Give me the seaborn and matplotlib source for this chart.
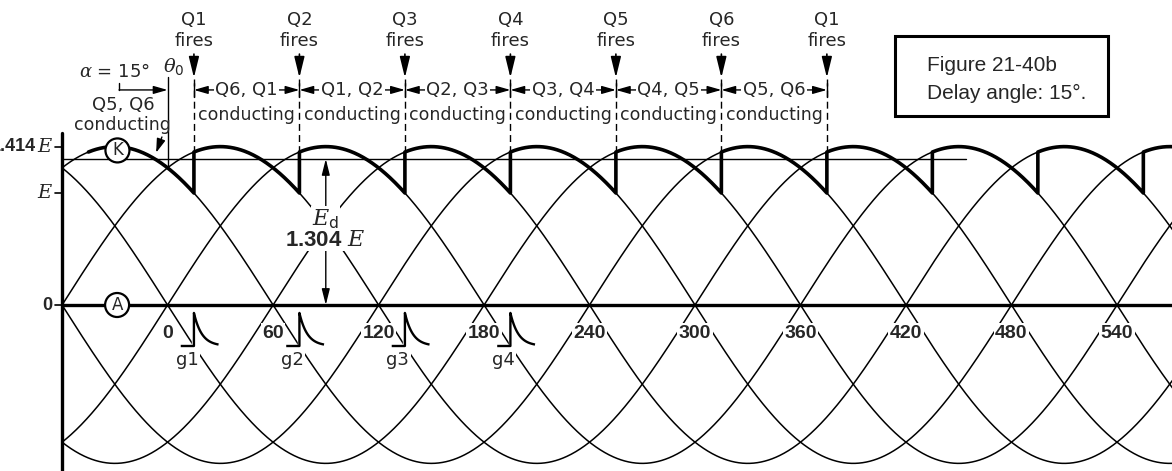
import numpy as np
import pandas as pd
import matplotlib
matplotlib.use('Agg')
import matplotlib.pyplot as plt
import seaborn as sns
from matplotlib.patches import Rectangle

# ---------------- data ----------------
PEAK = 1.414                       # peak of line-to-line voltage, units of E
PHASES = [-120, -60, 0, 60, 120, 180]   # phase shifts of the six line voltages (deg)
DELAY = 15                         # delay angle alpha (deg)
AVG_LEVEL = 1.304                  # average output Ed, units of E
THETA_START = -60
THETA_END = 572
AVG_LINE_END = 454
FIRING_ANGLES = [15, 75, 135, 195, 255, 315, 375]
FIRING_LABELS = ['Q1', 'Q2', 'Q3', 'Q4', 'Q5', 'Q6', 'Q1']
CONDUCTING = ['Q6, Q1', 'Q1, Q2', 'Q2, Q3', 'Q3, Q4', 'Q4, Q5', 'Q5, Q6']
ANGLE_TICKS = [0, 60, 120, 180, 240, 300, 360, 420, 480, 540]
GATE_LABELS = ['g1', 'g2', 'g3', 'g4']
Y_TICKS = [0, 1.0, 1.414]

# ---------------- style ----------------
sns.set_theme(style='white')
plt.rcParams['font.family'] = ['DejaVu Sans']
plt.rcParams['mathtext.fontset'] = 'custom'
plt.rcParams['mathtext.rm'] = 'DejaVu Sans'
plt.rcParams['mathtext.it'] = 'DejaVu Serif:italic'
plt.rcParams['mathtext.bf'] = 'Liberation Sans:bold'

fig = plt.figure(figsize=(11.72, 4.71), dpi=100)
ax = fig.add_axes([0, 0, 1, 1])

# ---------------- six line voltages ----------------
theta = np.linspace(THETA_START, THETA_END, 1500)
rows = []
for ph in PHASES:
    rows.append(pd.DataFrame({'theta': theta,
                              'v': PEAK * np.sin(np.radians(theta - ph)),
                              'phase': ph}))
df = pd.concat(rows, ignore_index=True)
sns.lineplot(data=df, x='theta', y='v', units='phase', estimator=None,
             color='black', lw=1.1, legend=False, ax=ax, zorder=2)

# ---------------- output envelope (delayed) ----------------
env_t, env_v = [], []
n = -1
while True:
    start = DELAY + 60 * (n)
    end = start + 60
    s = max(start, THETA_START)
    e = min(end, THETA_END)
    if s >= THETA_END:
        break
    t = np.linspace(s, e, 120)
    env_t.append(t)
    env_v.append(PEAK * np.sin(np.radians(t - (60 * n - 60))))
    n += 1
env = pd.DataFrame({'theta': np.concatenate(env_t), 'v': np.concatenate(env_v)})
sns.lineplot(data=env, x='theta', y='v', sort=False, estimator=None,
             color='black', lw=2.6, ax=ax, zorder=3)

# average level line
ax.plot([THETA_START, AVG_LINE_END], [AVG_LEVEL, AVG_LEVEL], color='black', lw=1.0, zorder=2)

# zero line & y axis
ax.plot([THETA_START, THETA_END], [0, 0], color='black', lw=2.4, zorder=3)
ax.plot([THETA_START, THETA_START], [-1.6, 1.536], color='black', lw=2.4, zorder=3)
for yt in Y_TICKS:
    ax.plot([THETA_START - 4, THETA_START], [yt, yt], color='black', lw=1.2, zorder=3)
ax.text(THETA_START - 8.5, 0, '0', ha='center', va='center', fontsize=13,
        fontweight='bold', family='Liberation Sans')
ax.text(THETA_START - 9.7, 1.0, r'$E$', ha='center', va='center', fontsize=14)
ax.text(THETA_START - 9.7, PEAK, r'$E$', ha='center', va='center', fontsize=14)
ax.text(THETA_START - 15.0, PEAK, '1.414', ha='right', va='center', fontsize=13,
        fontweight='bold', family='Liberation Sans')

# angle labels along zero line
white = dict(boxstyle='square,pad=0.08', fc='white', ec='none')
for a in ANGLE_TICKS:
    ax.text(a, -0.25, str(a), ha='center', va='center', fontsize=14,
            fontweight='bold', family='Liberation Sans', bbox=white, zorder=5)

# gate pulses
for lab, f in zip(GATE_LABELS, FIRING_ANGLES):
    base, top = -0.366, -0.071
    tt = np.linspace(0, 14, 60)
    px = np.concatenate([[f - 7.5, f, f], f + tt])
    py = np.concatenate([[base, base, top], base + (top - base) * np.exp(-tt / 4.5)])
    ax.fill_between([f - 1, f + 15], base - 0.02, top + 0.02, color='white', zorder=4)
    ax.plot(px, py, color='black', lw=1.7, zorder=5, solid_capstyle='butt')
    ax.text(f - 4, -0.49, lab, ha='center', va='center', fontsize=13, bbox=white, zorder=5)

# circles K and A
circ = dict(boxstyle='circle,pad=0.18', fc='white', ec='black', lw=1.6)
ax.text(-28.5, 1.38, 'K', ha='center', va='center', fontsize=12, bbox=circ, zorder=6)
ax.text(-28.7, 0, 'A', ha='center', va='center', fontsize=12, bbox=circ, zorder=6)

# firing arrows, dashed lines and conducting labels
env_at_fire = PEAK * np.sin(np.radians(DELAY + 60))
for lab, f in zip(FIRING_LABELS, FIRING_ANGLES):
    ax.text(f, 2.545, lab, ha='center', va='center', fontsize=13)
    ax.text(f, 2.357, 'fires', ha='center', va='center', fontsize=13)
    ax.annotate('', xy=(f, 2.03), xytext=(f, 2.24),
                arrowprops=dict(arrowstyle='-|>,head_length=0.9,head_width=0.22',
                                color='black', lw=1.2, shrinkA=0, shrinkB=0,
                                mutation_scale=14))
    ax.plot([f, f], [2.02, env_at_fire], color='black', lw=1.0,
            ls=(0, (5, 3)), zorder=2)
    ax.plot([f, f], [1.86, 1.98], color='black', lw=1.0, zorder=2)

for lab, f0, f1 in zip(CONDUCTING, FIRING_ANGLES[:-1], FIRING_ANGLES[1:]):
    ax.annotate('', xy=(f1, 1.92), xytext=(f0, 1.92),
                arrowprops=dict(arrowstyle='<|-|>,head_length=0.7,head_width=0.2',
                                color='black', lw=1.0, shrinkA=0, shrinkB=0,
                                mutation_scale=12), zorder=3)
    ax.text((f0 + f1) / 2, 1.92, lab, ha='center', va='center', fontsize=13,
            bbox=dict(boxstyle='square,pad=0.08', fc='white', ec='none'), zorder=4)
    ax.text((f0 + f1) / 2, 1.70, 'conducting', ha='center', va='center', fontsize=12.5,
            zorder=4)

# alpha / theta0 annotations
nat = 0   # natural commutation point
ax.plot([nat, nat], [2.036, PEAK * np.sin(np.radians(60))], color='black', lw=1.0, zorder=2)
ax.text(nat + 3.7, 2.125, r'$\theta_0$', ha='center', va='center', fontsize=14)
ax.text(-30, 2.08, r'$\alpha$ = 15°', ha='center', va='center', fontsize=13)
ax.plot([-27.6, -27.6], [1.98, 1.92], color='black', lw=1.0)
ax.annotate('', xy=(nat, 1.92), xytext=(-27.6, 1.92),
            arrowprops=dict(arrowstyle='-|>,head_length=0.7,head_width=0.2',
                            color='black', lw=1.0, shrinkA=0, shrinkB=0,
                            mutation_scale=12))
ax.text(-25.3, 1.786, 'Q5, Q6', ha='center', va='center', fontsize=13)
ax.text(-25.9, 1.607, 'conducting', ha='center', va='center', fontsize=12.5)
ax.annotate('', xy=(-6.5, 1.36), xytext=(-3.2, 1.50),
            arrowprops=dict(arrowstyle='-|>,head_length=0.7,head_width=0.22',
                            color='black', lw=1.0, shrinkA=0, shrinkB=0,
                            mutation_scale=12))

# Ed annotation
ax.annotate('', xy=(90, AVG_LEVEL), xytext=(90, 0),
            arrowprops=dict(arrowstyle='<|-|>,head_length=0.8,head_width=0.2',
                            color='black', lw=1.0, shrinkA=0, shrinkB=0,
                            mutation_scale=12), zorder=3)
ax.text(90, 0.77, r'$E_{\mathrm{d}}$', ha='center', va='center', fontsize=16,
        bbox=dict(boxstyle='square,pad=0.05', fc='white', ec='none'), zorder=5)
ax.text(90, 0.58, r'$\mathbf{1.304}\ E$', ha='center', va='center', fontsize=16,
        bbox=dict(boxstyle='square,pad=0.05', fc='white', ec='none'), zorder=5)

# caption box
ax.add_patch(Rectangle((413.8, 1.6875), 535.0 - 413.8, 2.402 - 1.6875,
                       fill=False, ec='black', lw=2.2, zorder=5))
ax.text(432, 2.135, 'Figure 21-40b', ha='left', va='center', fontsize=15,
        family='Liberation Sans')
ax.text(432, 1.885, 'Delay angle: 15°.', ha='left', va='center', fontsize=15,
        family='Liberation Sans')

ax.set_xlim(-95.3, 571.3)
ax.set_ylim(-1.482, 2.723)
ax.axis('off')

fig.savefig('out.png', dpi=100, facecolor='white')
